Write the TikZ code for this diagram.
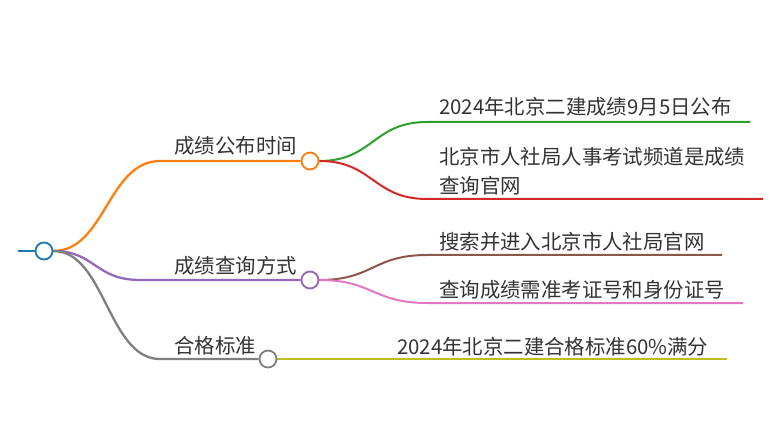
\documentclass[tikz,border=0pt]{standalone}
\usepackage{fontspec}
\setmainfont{Noto Sans CJK SC}
\usetikzlibrary{backgrounds}
\definecolor{cblue}{HTML}{1F77B4}
\definecolor{corange}{HTML}{FF7F0E}
\definecolor{cpurple}{HTML}{9467BD}
\definecolor{cgray}{HTML}{7F7F7F}
\definecolor{cgreen}{HTML}{2CA02C}
\definecolor{cred}{HTML}{D62728}
\definecolor{cbrown}{HTML}{8C564B}
\definecolor{cpink}{HTML}{E377C2}
\definecolor{colive}{HTML}{BCBD22}
\definecolor{ctext}{HTML}{333333}
\begin{document}
\begin{tikzpicture}[x=1pt,y=-1pt,
  dot/.style={circle,minimum size=17pt,inner sep=0pt,fill=white,line width=1.8pt},
  mainline/.style={line width=2.3pt},
  subline/.style={line width=2pt},
  lab/.style={inner sep=0pt,text=ctext,font=\fontsize{20.4}{29}\selectfont,align=left}]
\useasboundingbox (0,0) rectangle (780,441);
% circles
\node[dot,draw=cblue] (root) at (44,251) {};
\node[dot,draw=corange] (n1) at (310,161) {};
\node[dot,draw=cpurple] (n2) at (310,280) {};
\node[dot,draw=cgray] (n3) at (268,359) {};
% helper coordinates
\coordinate (lead) at (18,251);
\coordinate (h1) at (160,161);
\coordinate (h2) at (140,280);
\coordinate (h3) at (160,359);
\coordinate (g1) at (427,122);
\coordinate (g2) at (750,122);
\coordinate (r1) at (427,199);
\coordinate (r2) at (763,199);
\coordinate (b1) at (427,255);
\coordinate (b2) at (722,255);
\coordinate (p1) at (427,303);
\coordinate (p2) at (743,303);
\coordinate (o2) at (727,359);
% labels
\node[lab,anchor=base east] (t1) at (297,154) {成绩公布时间};
\node[lab,anchor=base east] (t2) at (297,273) {成绩查询方式};
\node[lab,anchor=base east] (t3) at (256,353) {合格标准};
\node[lab,anchor=base west] (s1) at (439,115) {2024年北京二建成绩9月5日公布};
\node[lab,anchor=base west] (s2) at (439,194) {北京市人社局人事考试频道是成绩\\查询官网};
\node[lab,anchor=base west] (s3) at (439,250) {搜索并进入北京市人社局官网};
\node[lab,anchor=base west] (s4) at (439,297) {查询成绩需准考证号和身份证号};
\node[lab,anchor=base west] (s5) at (397,354) {2024年北京二建合格标准60\%满分};
\begin{scope}[on background layer]
\draw[mainline,cblue] (lead) -- (root.west);
\draw[mainline,corange] (root.east) .. controls (105,251) and (108,161) .. (h1) -- (n1.west);
\draw[mainline,cpurple] (root.east) .. controls (95,251) and (95,280) .. (h2) -- (n2.west);
\draw[mainline,cgray] (root.east) .. controls (105,251) and (108,359) .. (h3) -- (n3.west);
\draw[subline,cgreen] (n1.east) .. controls (373,161) and (373,122) .. (g1) -- (g2);
\draw[subline,cred] (n1.east) .. controls (373,161) and (373,199) .. (r1) -- (r2);
\draw[subline,cbrown] (n2.east) .. controls (373,280) and (373,255) .. (b1) -- (b2);
\draw[subline,cpink] (n2.east) .. controls (373,280) and (373,303) .. (p1) -- (p2);
\draw[subline,colive] (n3.east) -- (o2);
\end{scope}
\end{tikzpicture}
\end{document}
